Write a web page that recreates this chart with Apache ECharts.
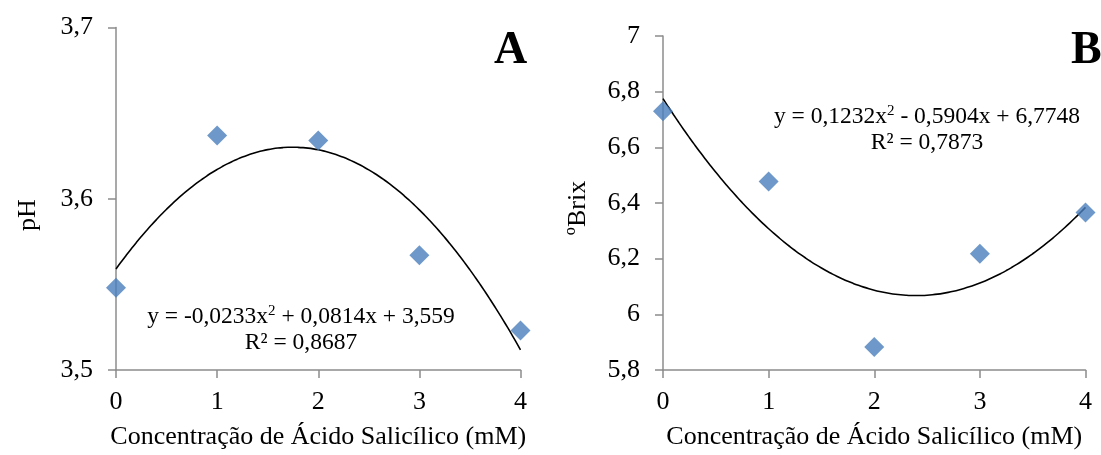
<!DOCTYPE html>
<html><head><meta charset="utf-8">
<script src="https://cdn.jsdelivr.net/npm/echarts@6/dist/echarts.min.js"></script>
<style>html,body{margin:0;padding:0;background:#fff}#c{width:1101px;height:455px}</style>
</head><body><div id="c"></div>
<script>
const concentrations = [0, 1, 2, 3, 4];
const phValues = [3.548, 3.637, 3.634, 3.567, 3.523];
const brixValues = [6.73, 6.477, 5.883, 6.218, 6.366];
const phFitCoef = [-0.0233, 0.0814, 3.559];     // a, b, c of y = ax² + bx + c
const brixFitCoef = [0.1232, -0.5904, 6.7748];
const phTicks = [3.5, 3.6, 3.7];
const brixTicks = [5.8, 6, 6.2, 6.4, 6.6, 6.8, 7];
const xTitle = 'Concentração de Ácido Salicílico (mM)';
const phTitle = 'pH';
const brixTitle = 'ºBrix';

function fitCurve(coef) {
  const pts = [];
  for (let i = 0; i <= 80; i++) {
    const x = i * 0.05;
    pts.push([x, coef[0] * x * x + coef[1] * x + coef[2]]);
  }
  return pts;
}
const font = 'Liberation Serif';
const fmt = v => String(+v.toFixed(1)).replace('.', ',');
const axisCol = '#8c8c8c';
const FS = 26;

function xAx(idx) {
  return {
    type: 'value', gridIndex: idx, min: 0, max: 4, interval: 1,
    name: xTitle, nameLocation: 'middle', nameGap: 54,
    nameTextStyle: { fontFamily: font, fontSize: FS, color: '#000' },
    axisLine: { show: true, lineStyle: { color: axisCol, width: 1.5 } },
    axisTick: { show: true, length: 8, lineStyle: { color: axisCol, width: 1.5 } },
    axisLabel: { fontFamily: font, fontSize: FS, color: '#000', margin: 19 },
    splitLine: { show: false }
  };
}
function yAx(idx, min, max, interval) {
  return {
    type: 'value', gridIndex: idx, min, max, interval,
    axisLine: { show: true, lineStyle: { color: axisCol, width: 1.5 } },
    axisTick: { show: true, length: 8, lineStyle: { color: axisCol, width: 1.5 } },
    axisLabel: { fontFamily: font, fontSize: FS, color: '#000', margin: 23, formatter: fmt },
    splitLine: { show: false }
  };
}
const chart = echarts.init(document.getElementById('c'));
chart.setOption({
  animation: false,
  backgroundColor: '#fff',
  grid: [
    { left: 116, right: 1101 - 520.5, top: 27.5, bottom: 455 - 373.5 },
    { left: 663, right: 1101 - 1085.5, top: 36, bottom: 455 - 371 }
  ],
  xAxis: [xAx(0), xAx(1)],
  yAxis: [yAx(0, phTicks[0], phTicks[phTicks.length - 1], 0.1),
          yAx(1, brixTicks[0], brixTicks[brixTicks.length - 1], 0.2)],
  series: [
    { type: 'line', xAxisIndex: 0, yAxisIndex: 0, data: fitCurve(phFitCoef), showSymbol: false, smooth: true,
      lineStyle: { color: '#000', width: 1.6 }, z: 2 },
    { type: 'scatter', xAxisIndex: 0, yAxisIndex: 0, data: concentrations.map((x, i) => [x, phValues[i]]),
      symbol: 'diamond', symbolSize: [20, 20], itemStyle: { color: '#4a7ebb' }, z: 3 },
    { type: 'line', xAxisIndex: 1, yAxisIndex: 1, data: fitCurve(brixFitCoef), showSymbol: false, smooth: true,
      lineStyle: { color: '#000', width: 1.6 }, z: 2 },
    { type: 'scatter', xAxisIndex: 1, yAxisIndex: 1, data: concentrations.map((x, i) => [x, brixValues[i]]),
      symbol: 'diamond', symbolSize: [20, 20], itemStyle: { color: '#4a7ebb' }, z: 3 }
  ],
  graphic: [
    { type: 'text', x: 28, y: 215, rotation: Math.PI / 2,
      style: { text: phTitle, fontFamily: font, fontSize: FS, fill: '#000', align: 'center', verticalAlign: 'middle' } },
    { type: 'text', x: 578, y: 208, rotation: Math.PI / 2,
      style: { text: brixTitle, fontFamily: font, fontSize: FS, fill: '#000', align: 'center', verticalAlign: 'middle' } },
    { type: 'text', left: 494, top: 28, style: { text: 'A', fontFamily: font, fontSize: 46, fontWeight: 'bold', fill: '#000' } },
    { type: 'text', left: 1071, top: 28, style: { text: 'B', fontFamily: font, fontSize: 46, fontWeight: 'bold', fill: '#000' } },
    { type: 'text', x: 301, y: 330, style: {
        text: 'y = -0,0233x{s|2} + 0,0814x + 3,559\nR² = 0,8687', align: 'center', verticalAlign: 'middle',
        fontFamily: font, fontSize: 23.5, lineHeight: 26, fill: '#000',
        rich: { s: { fontFamily: font, fontSize: 15, verticalAlign: 'top', fill: '#000', padding: [0, 0, 9, 0] } } } },
    { type: 'text', x: 927, y: 130, style: {
        text: 'y = 0,1232x{s|2} - 0,5904x + 6,7748\nR² = 0,7873', align: 'center', verticalAlign: 'middle',
        fontFamily: font, fontSize: 23.5, lineHeight: 26, fill: '#000',
        rich: { s: { fontFamily: font, fontSize: 15, verticalAlign: 'top', fill: '#000', padding: [0, 0, 9, 0] } } } }
  ]
});
</script></body></html>
